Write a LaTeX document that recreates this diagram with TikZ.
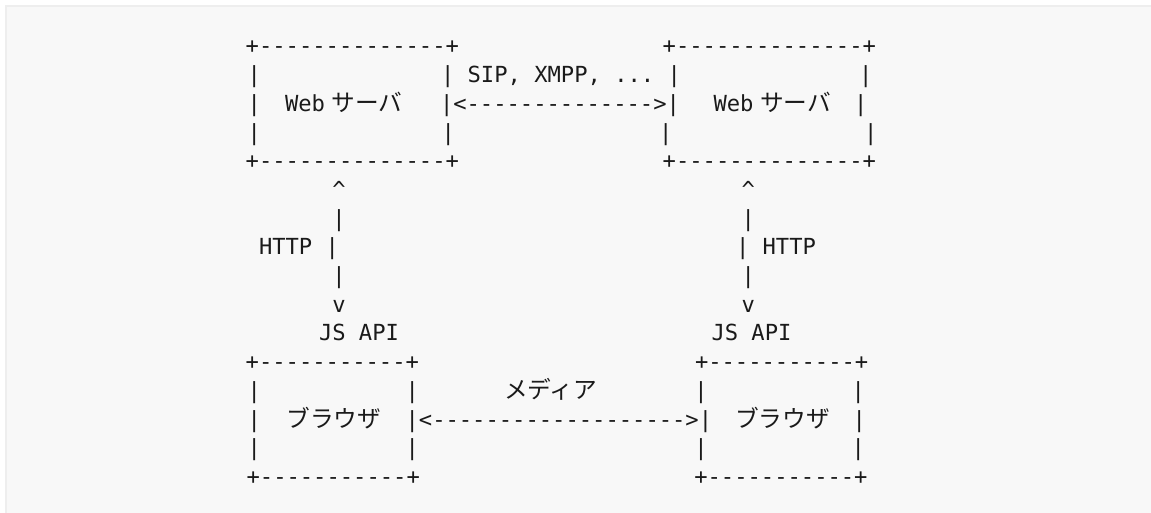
\documentclass[tikz,border=0pt]{standalone}
\usepackage{fontspec}
\usepackage{xcolor}
\usepackage{tikz}
\setmonofont{DejaVu Sans Mono}
\newfontfamily\jpfont[Scale=1.07]{Noto Sans CJK JP}
\definecolor{codebg}{HTML}{F8F8F8}
\definecolor{codeedge}{HTML}{EEEEEE}
\definecolor{ink}{HTML}{1A1A1A}
\newcommand{\artfont}{\ttfamily\fontsize{11.07pt}{13pt}\selectfont}
\newcommand{\jpart}{\jpfont\fontsize{11.07pt}{13pt}\selectfont}
\tikzset{
  ascii/.style={inner sep=0pt, outer sep=0pt, font=\artfont, text=ink},
  cell/.style={ascii, anchor=base},
  run/.style={ascii, anchor=base west},
  jp/.style={run, font=\jpart}
}

\begin{document}
\begin{tikzpicture}[x=0.5pt, y=-0.5pt]
  % Code block background
  \useasboundingbox (0,0) rectangle (1151,513);
  \fill[white] (0,0) rectangle (1151,513);
  \fill[codeedge] (5,5) rectangle (1151,513);
  \fill[codebg] (7,7) rectangle (1151,513);

  % Web servers
  \node[run] (wsLtop) at (245.7,54) {+--------------+};
  \node[run] (wsRtop) at (662.7,54) {+--------------+};
  \node[cell] (wsLa) at (254.3,82.7) {|};
  \node[run] (sipLbl) at (441,82.7) {| SIP, XMPP, ... |};
  \node[cell] (wsRa) at (865.7,82.7) {|};
  \node[cell] (wsLb) at (254.3,111.4) {|};
  \node[run] (wsLweb) at (285,111.4) {Web};
  \node[jp] (wsLname) at (331.5,111.4) {サーバ};
  \node[run] (sigArrow) at (440,111.4) {|<-------------->|};
  \node[run] (wsRweb) at (713.5,111.4) {Web};
  \node[jp] (wsRname) at (760,111.4) {サーバ};
  \node[cell] (wsRb) at (860.7,111.4) {|};
  \node[cell] (wsLc) at (254.3,140.1) {|};
  \node[cell] (wsLd) at (448.3,140.1) {|};
  \node[cell] (wsRc) at (665.7,140.1) {|};
  \node[cell] (wsRd) at (870.7,140.1) {|};
  \node[run] (wsLbot) at (245.7,168.8) {+--------------+};
  \node[run] (wsRbot) at (662.7,168.8) {+--------------+};

  % HTTP links
  \node[cell] (upL) at (339,197.5) {\textasciicircum};
  \node[cell] (upR) at (748.3,197.5) {\textasciicircum};
  \node[cell] (httpLa) at (339,226.2) {|};
  \node[cell] (httpRa) at (748.3,226.2) {|};
  \node[run] (httpL) at (259,254.9) {HTTP |};
  \node[run] (httpR) at (736,254.9) {| HTTP};
  \node[cell] (httpLb) at (339,283.6) {|};
  \node[cell] (httpRb) at (748.3,283.6) {|};
  \node[cell] (downL) at (339,312.3) {v};
  \node[cell] (downR) at (748.3,312.3) {v};
  \node[run] (apiL) at (319,341) {JS API};
  \node[run] (apiR) at (711.5,341) {JS API};

  % Browsers
  \node[run] (brLtop) at (245.7,369.7) {+-----------+};
  \node[run] (brRtop) at (695,369.7) {+-----------+};
  \node[cell] (brLa) at (254.3,398.4) {|};
  \node[cell] (brLb) at (412.3,398.4) {|};
  \node[jp] (mediaLbl) at (504,398.4) {メディア};
  \node[cell] (brRa) at (701,398.4) {|};
  \node[cell] (brRb) at (858.3,398.4) {|};
  \node[cell] (brLc) at (254.3,427.1) {|};
  \node[jp] (brLname) at (286.5,427.1) {ブラウザ};
  \node[run] (mediaArrow) at (405.6,427.1) {|<------------------->|};
  \node[jp] (brRname) at (735,427.1) {ブラウザ};
  \node[cell] (brRc) at (859.3,427.1) {|};
  \node[cell] (brLd) at (254.3,455.8) {|};
  \node[cell] (brLe) at (412.3,455.8) {|};
  \node[cell] (brRd) at (701,455.8) {|};
  \node[cell] (brRe) at (858.3,455.8) {|};
  \node[run] (brLbot) at (246.6,484.5) {+-----------+};
  \node[run] (brRbot) at (694.3,484.5) {+-----------+};
\end{tikzpicture}
\end{document}
